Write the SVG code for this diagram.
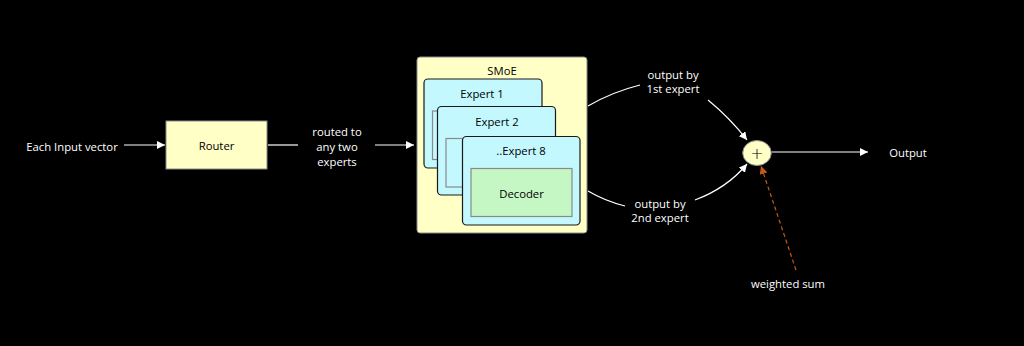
<svg xmlns="http://www.w3.org/2000/svg" width="1024" height="346" viewBox="0 0 1024 346">
<defs>
<style>
text{font-family:"Open Sans","Noto Sans","Liberation Sans",sans-serif;font-size:11.3px;text-anchor:middle;dominant-baseline:central}
.w{fill:#ffffff}
.k{fill:#000000}
.box{fill:#ffffc6;stroke:#8a8a8a;stroke-width:1}
.exp{fill:#c2f8fe;stroke:#1a1a1a;stroke-width:1.2}
.inner{fill:#c2f8fe;stroke:#8a8a8a;stroke-width:1.2}
.dec{fill:#c4f7c4;stroke:#8a8a8a;stroke-width:1.2}
.ln{fill:none;stroke:#ffffff;stroke-width:1.2}
.dash{fill:none;stroke:#c55a11;stroke-width:1.2;stroke-dasharray:4 3}
</style>
<marker id="aw" viewBox="0 0 10 10" refX="10" refY="5" markerWidth="8" markerHeight="8" markerUnits="userSpaceOnUse" orient="auto"><path d="M0,0 L10,5 L0,10 z" fill="#ffffff"/></marker>
<marker id="ao" viewBox="0 0 10 10" refX="10" refY="5" markerWidth="8" markerHeight="8" markerUnits="userSpaceOnUse" orient="auto"><path d="M0,0 L10,5 L0,10 z" fill="#c55a11"/></marker>
</defs>
<rect width="1024" height="346" fill="#000000"/>
<g id="connectors">
<line class="ln" x1="124" y1="145" x2="165" y2="145" marker-end="url(#aw)"/>
<line class="ln" x1="268" y1="145" x2="298" y2="145"/>
<line class="ln" x1="375" y1="145" x2="414" y2="145" marker-end="url(#aw)"/>
<path class="ln" d="M588,106 Q612,92 640,85"/>
<path class="ln" d="M708,100 Q730,118 747,140" marker-end="url(#aw)"/>
<path class="ln" d="M588,191 Q605,201 625,206"/>
<path class="ln" d="M695,200 Q727,188 747,164" marker-end="url(#aw)"/>
<line class="ln" x1="772" y1="152" x2="868" y2="152" marker-end="url(#aw)"/>
<line class="dash" x1="796" y1="270" x2="761" y2="166" marker-end="url(#ao)"/>
</g>
<g id="input"><text class="w" x="72" y="146">Each Input vector</text></g>
<g id="router"><rect class="box" x="166" y="121" width="101" height="48"/><text class="k" x="216.5" y="145">Router</text></g>
<g id="routed-label"><text class="w" x="337" y="131">routed to</text><text class="w" x="337" y="146">any two</text><text class="w" x="337" y="161">experts</text></g>
<g id="smoe">
<rect class="box" x="417" y="57" width="170" height="176" rx="3"/>
<text class="k" x="502" y="70">SMoE</text>
<g id="expert1"><rect class="exp" x="424" y="79" width="118" height="89" rx="4"/><text class="k" x="482" y="93">Expert 1</text><rect class="inner" x="432.5" y="111" width="101" height="48.5"/></g>
<g id="expert2"><rect class="exp" x="437.5" y="106.5" width="118" height="88.5" rx="4"/><text class="k" x="497" y="121">Expert 2</text><rect class="inner" x="446" y="138.5" width="101" height="48.5"/></g>
<g id="expert8"><rect class="exp" x="462.5" y="136.5" width="117.5" height="88.5" rx="4"/><text class="k" x="521" y="150">..Expert 8</text><rect class="dec" x="471" y="168.5" width="101" height="48"/><text class="k" x="521.5" y="193">Decoder</text></g>
</g>
<g id="out1-label"><text class="w" x="673" y="74">output by</text><text class="w" x="673" y="88">1st expert</text></g>
<g id="out2-label"><text class="w" x="660" y="203">output by</text><text class="w" x="660" y="217">2nd expert</text></g>
<g id="sum"><ellipse cx="757" cy="153" rx="14.3" ry="12.5" fill="#ffffc6" stroke="#8a8a8a" stroke-width="1"/><text class="k" x="757" y="153" style="font-size:16px;font-family:'DejaVu Sans',sans-serif;font-weight:300">+</text></g>
<g id="output"><text class="w" x="908" y="152">Output</text></g>
<g id="weighted"><text class="w" x="788" y="283">weighted sum</text></g>
</svg>
